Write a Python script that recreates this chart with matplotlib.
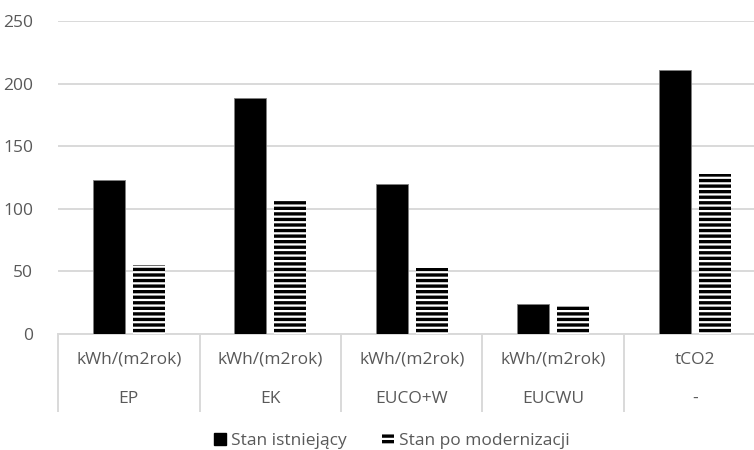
import matplotlib.pyplot as plt
import numpy as np
from matplotlib.patches import Patch

plt.rcParams['font.family'] = ['Open Sans', 'DejaVu Sans']
plt.rcParams['hatch.linewidth'] = 2.4

units = ['kWh/(m2rok)', 'kWh/(m2rok)', 'kWh/(m2rok)', 'kWh/(m2rok)', 'tCO2']
names = ['EP', 'EK', 'EUCO+W', 'EUCWU', '-']
stan_istniejacy = [123, 189, 120, 24, 211]
stan_po_modernizacji = [55, 106, 53, 22, 128]

txt = '#595959'
grid = '#d9d9d9'

fig = plt.figure(figsize=(7.54, 4.5), dpi=100)
# axes runs a little past the right edge of the figure
ax = fig.add_axes([58 / 754, 116 / 450, 707.5 / 754, (334 - 21.3) / 450])

x = np.arange(len(names))
w = 0.226
ax.bar(x - 0.143, stan_istniejacy, w, color='black', edgecolor='#7f7f7f',
       linewidth=0.6, zorder=3, label='Stan istniejący')
ax.bar(x + 0.143, stan_po_modernizacji, w, color='white', edgecolor='black',
       hatch='---', linewidth=0, zorder=3, label='Stan po modernizacji')

ax.set_xlim(-0.5, 4.5)
ax.set_ylim(0, 250)
ax.set_yticks(range(0, 251, 50))
ax.yaxis.grid(True, color=grid, linewidth=1.4)
ax.set_axisbelow(True)
for s in ['top', 'right', 'left']:
    ax.spines[s].set_visible(False)
ax.spines['bottom'].set_color(grid)
ax.spines['bottom'].set_linewidth(1.4)
ax.tick_params(axis='y', length=0, pad=18, labelsize=12.5, labelcolor=txt)
ax.set_xticks([])

# two-level category table under the axis
trans = ax.get_xaxis_transform()
for b in np.arange(-0.5, 5.0, 1.0):
    ax.plot([b, b], [0, -77 / 312.7], transform=trans, color=grid,
            linewidth=1.4, clip_on=False)
for i in x:
    ax.text(i, -26 / 312.7, units[i], transform=trans, ha='center',
            va='center', fontsize=12.5, color=txt)
    ax.text(i, -65 / 312.7, names[i], transform=trans, ha='center',
            va='center', fontsize=12.5, color=txt)

handles = [Patch(facecolor='black', edgecolor='black'),
           Patch(facecolor='white', edgecolor='black', hatch='---', linewidth=0)]
fig.legend(handles, ['Stan istniejący', 'Stan po modernizacji'],
           loc='center', bbox_to_anchor=(392 / 754, 1 - 441 / 450), ncol=2,
           frameon=False, fontsize=12.5, labelcolor=txt, handlelength=0.7,
           handleheight=0.7, handletextpad=0.3, columnspacing=2.0)

fig.savefig('out.png', dpi=100)
